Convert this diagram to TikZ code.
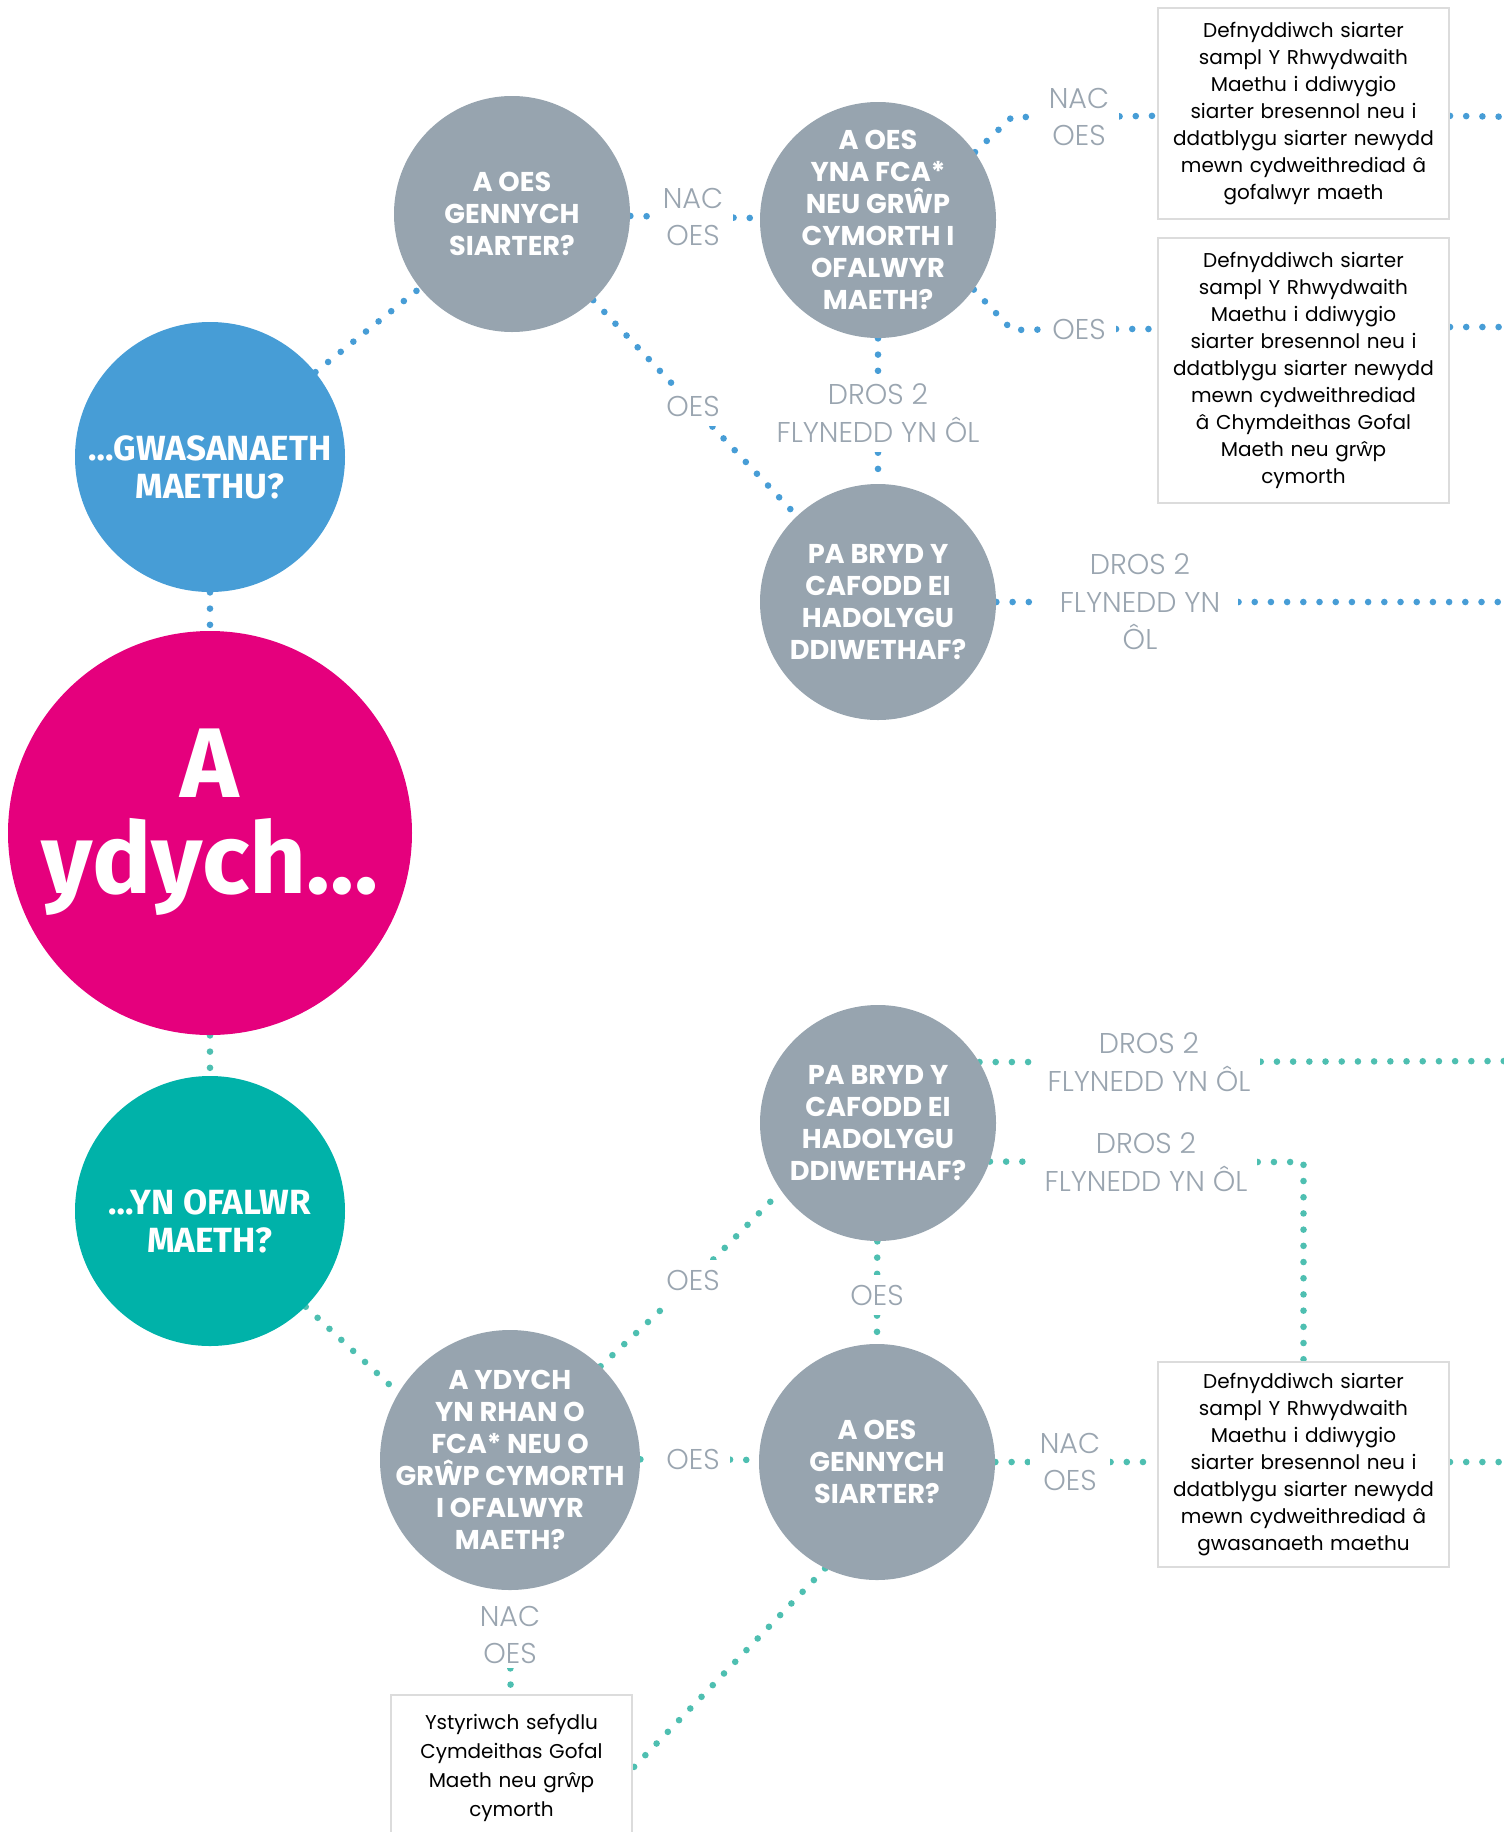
\documentclass[tikz,border=0pt]{standalone}
\usepackage{fontspec}
\setmainfont{Poppins}
\newfontfamily\dispfont{Fira Sans}
\newfontfamily\lightfont{Poppins Light}
\usetikzlibrary{backgrounds}
\definecolor{cmag}{HTML}{E5007D}
\definecolor{cblue}{HTML}{479DD6}
\definecolor{cteal}{HTML}{00B2A9}
\definecolor{cgray}{HTML}{97A4AF}
\definecolor{clbl}{HTML}{9AA5B0}
\definecolor{cdotb}{HTML}{479DD6}
\definecolor{cdott}{HTML}{4EBFB1}
\definecolor{cbox}{HTML}{DCDCDC}
\begin{document}
\begin{tikzpicture}[x=0.5pt,y=-0.5pt,
  q/.style={circle, fill=cgray, text=white, minimum size=118pt, inner sep=0pt, align=center,
    font=\fontsize{13.6}{16}\selectfont\bfseries},
  qtext/.style={text=white, inner sep=0pt, align=center, font=\fontsize{13.6}{16}\selectfont\bfseries},
  big/.style={circle, minimum size=135pt, inner sep=0pt},
  bigtext/.style={text=white, inner sep=0pt, align=center,
    font=\dispfont\fontsize{17.5}{19}\selectfont\bfseries},
  infobox/.style={draw=cbox, line width=1pt, fill=white, text width=140pt, inner xsep=2.75pt, inner ysep=0pt,
    align=center, font=\fontsize{10}{13.45}\selectfont},
  lbl/.style={text=clbl, align=center, font=\lightfont\fontsize{14.3}{18.75}\selectfont, inner sep=5pt, fill=white},
  dotb/.style={draw=cdotb, line width=3.3pt, line cap=round, dash pattern=on 0pt off 8.1pt},
  dott/.style={dotb, draw=cdott},
]
\useasboundingbox (0,0) rectangle (1504,1832);

% circles
\node[big, fill=cblue] (blue) at (210,457) {};
\node[bigtext] (bluetxt) at (210,467) {…GWASANAETH\\MAETHU?};
\node[circle, fill=cmag, minimum size=202pt, inner sep=0pt] (mag) at (210,833) {};
\node[text=white, align=center, inner sep=0pt,
  font=\dispfont\fontsize{49.5}{48}\selectfont\bfseries] (magtxt) at (210,822) {A\\ydych…};
\node[big, fill=cteal] (teal) at (210,1211) {};
\node[bigtext] (tealtxt) at (210,1221) {…YN OFALWR\\MAETH?};
\node[q] (s1) at (512,214) {A OES\\GENNYCH\\SIARTER?};
\node[q] (fca) at (878,220) {A OES\\YNA FCA*\\NEU GRŴP\\CYMORTH I\\OFALWYR\\MAETH?};
\node[q] (pb1) at (878,602) {PA BRYD Y\\CAFODD EI\\HADOLYGU\\DDIWETHAF?};
\node[q] (pb2) at (878,1123) {PA BRYD Y\\CAFODD EI\\HADOLYGU\\DDIWETHAF?};
\node[q] (s2) at (877,1462) {A OES\\GENNYCH\\SIARTER?};
\node[q, minimum size=130pt] (ay) at (510,1460) {};
\node[qtext] (aytxt) at (ay) {A YDYCH\\YN RHAN O\\FCA* NEU O\\GRŴP CYMORTH\\I OFALWYR\\MAETH?};

% boxes
\node[infobox, minimum height=105.5pt] (b1) at (1303.5,113.5) {Defnyddiwch siarter\\sampl Y Rhwydwaith\\Maethu i ddiwygio\\siarter bresennol neu i\\ddatblygu siarter newydd\\mewn cydweithrediad â\\gofalwyr maeth};
\node[infobox, minimum height=132.5pt] (b2) at (1303.5,370.5) {Defnyddiwch siarter\\sampl Y Rhwydwaith\\Maethu i ddiwygio\\siarter bresennol neu i\\ddatblygu siarter newydd\\mewn cydweithrediad\\â Chymdeithas Gofal\\Maeth neu grŵp\\cymorth};
\node[infobox, minimum height=102.5pt] (b3) at (1303.5,1464.5) {Defnyddiwch siarter\\sampl Y Rhwydwaith\\Maethu i ddiwygio\\siarter bresennol neu i\\ddatblygu siarter newydd\\mewn cydweithrediad â\\gwasanaeth maethu};
\node[infobox, text width=115pt, minimum height=73pt, font=\fontsize{10}{14.5}\selectfont] (b4) at (511.5,1768) {Ystyriwch sefydlu\\Cymdeithas Gofal\\Maeth neu grŵp\\cymorth};

% labels
\node[lbl] (l1) at (693,217) {NAC\\OES};
\node[lbl] (l2) at (693,406) {OES};
\node[lbl] (l3) at (1079,117) {NAC\\OES};
\node[lbl] (l4) at (1079,329) {OES};
\node[lbl] (l5) at (878,413) {DROS 2\\FLYNEDD YN ÔL};
\node[lbl, inner xsep=9pt, xshift=2pt] (l6) at (1136,602) {DROS 2\\FLYNEDD YN\\ÔL};
\node[lbl] (l7) at (1149,1062) {DROS 2\\FLYNEDD YN ÔL};
\node[lbl] (l8) at (1146,1162) {DROS 2\\FLYNEDD YN ÔL};
\node[lbl] (l9) at (877,1295) {OES};
\node[lbl] (l10) at (693,1280) {OES};
\node[lbl] (l11) at (693,1459) {OES};
\node[lbl] (l12) at (1070,1462) {NAC\\OES};
\node[lbl, inner sep=2pt] (l13) at (510,1635) {NAC\\OES};

% free ends
\coordinate (e1) at (1012,117);
\coordinate (e2) at (1012,330);
\coordinate (r1) at (1520,117);
\coordinate (r2) at (1520,327);
\coordinate (r3) at (1520,602);
\coordinate (r4) at (1520,1061);
\coordinate (r5) at (1520,1462);

\begin{scope}[on background layer]
  % blue branch
  \draw[dotb] (blue) -- (mag);
  \draw[dotb] (blue) -- (s1);
  \draw[dotb] (s1) -- (l1);
  \draw[dotb] (l1) -- (fca);
  \draw[dotb] (s1) -- (l2);
  \draw[dotb] (l2) -- (pb1);
  \draw[dotb] (fca.35) -- (e1) -- (l3);
  \draw[dotb] (l3) -- (b1);
  \draw[dotb] (b1) -- (r1);
  \draw[dotb] (fca.-36) -- (e2) -- (l4);
  \draw[dotb] (l4) -- (l4 -| b2.west);
  \draw[dotb] (r2 -| b2.east) -- (r2);
  \draw[dotb] (fca) -- (l5);
  \draw[dotb] (l5) -- (pb1);
  \draw[dotb] (pb1) -- (l6);
  \draw[dotb] (l6) -- (r3);
  % teal branch
  \draw[dott] (mag) -- (teal);
  \draw[dott] (teal.-45) -- (ay.149);
  \draw[dott] (ay) -- (l11);
  \draw[dott] (l11) -- (s2);
  \draw[dott] (ay.46) -- (l10);
  \draw[dott] (l10) -- (pb2.215);
  \draw[dott] (pb2) -- (l9);
  \draw[dott] (l9) -- (s2);
  \draw[dott] (pb2.31) -- (l7);
  \draw[dott] (l7) -- (r4);
  \draw[dott] (pb2.-19) -- (l8);
  \draw[dott] (l8) -- (l8 -| b3.north) -- (b3.north);
  \draw[dott] (s2) -- (l12);
  \draw[dott] (l12) -- (l12 -| b3.west);
  \draw[dott] (r5 -| b3.east) -- (r5);
  \draw[dott] (l13) -- (b4);
  \draw[dott] (s2.244) -- (b4.east);
\end{scope}
\end{tikzpicture}
\end{document}
